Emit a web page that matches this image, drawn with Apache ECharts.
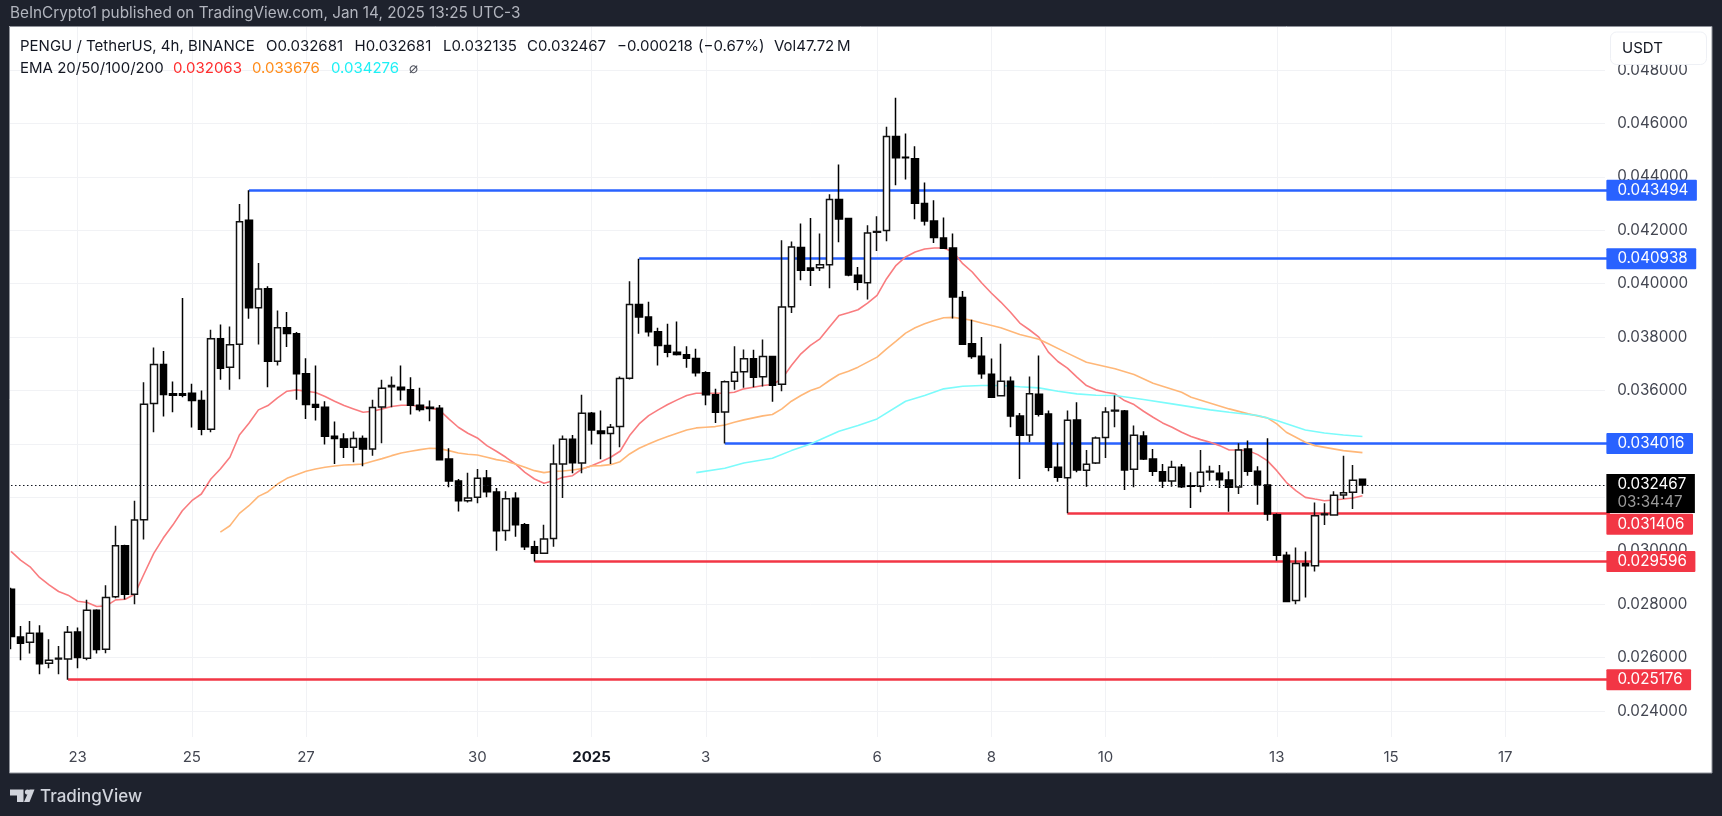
<!DOCTYPE html>
<html>
<head>
<meta charset="utf-8">
<title>PENGU / TetherUS</title>
<script src="https://cdn.jsdelivr.net/npm/echarts@6/dist/echarts.min.js"></script>
<style>
  html, body { margin: 0; padding: 0; background: #1e222d; }
  #chart { width: 1722px; height: 816px; }
</style>
</head>
<body>
<div id="chart"></div>
<script>
const opens = [
  0.028562,0.026775,0.026575,0.026912,0.025787,0.025950,0.025950,0.026962,0.025975,0.027775,
  0.026312,0.028275,0.030187,0.028375,0.031162,0.035512,0.036975,0.035875,0.035875,0.035900,
  0.035625,0.034550,0.037937,0.036875,0.037737,0.042373,0.039100,0.039812,0.037100,0.038350,
  0.038125,0.036625,0.035475,0.035375,0.034287,0.034187,0.033875,0.034200,0.033812,0.035387,
  0.036137,0.036125,0.036025,0.035450,0.035375,0.035337,0.033437,0.032612,0.031875,0.032000,
  0.032725,0.032200,0.030762,0.031962,0.030975,0.030150,0.029912,0.030462,0.033250,0.034175,
  0.033287,0.035150,0.034487,0.034387,0.034650,0.036462,0.039225,0.038750,0.038200,0.037687,
  0.037437,0.037337,0.037200,0.036662,0.035837,0.035200,0.036350,0.036700,0.037187,0.036512,
  0.037275,0.036237,0.039137,0.041350,0.040587,0.040600,0.040712,0.043150,0.042437,0.040312,
  0.040037,0.041925,0.041987,0.045512,0.044737,0.044675,0.043000,0.042350,0.041712,0.041337,
  0.039487,0.037750,0.037287,0.036612,0.035800,0.036350,0.035050,0.034337,0.035862,0.035125,
  0.033125,0.032737,0.034900,0.033012,0.033287,0.034237,0.035237,0.035237,0.033050,0.034300,
  0.033437,0.032962,0.032612,0.033125,0.032437,0.032412,0.032950,0.032900,0.032650,0.032387,
  0.033812,0.032975,0.032462,0.031350,0.029837,0.028137,0.029525,0.029437,0.031350,0.031337,
  0.032087,0.032187,0.032681
];
const closes = [
  0.026787,0.026537,0.026912,0.025775,0.025900,0.025975,0.026950,0.026000,0.027775,0.026300,
  0.028250,0.030187,0.028375,0.031150,0.035487,0.036975,0.035850,0.035825,0.035825,0.035625,
  0.034550,0.037937,0.036837,0.037712,0.042320,0.039100,0.039800,0.037100,0.038350,0.038137,
  0.036625,0.035475,0.035375,0.034287,0.034200,0.033875,0.034200,0.033812,0.035362,0.036087,
  0.036187,0.036025,0.035450,0.035287,0.035325,0.033412,0.032612,0.031875,0.031975,0.032712,
  0.032212,0.030750,0.031950,0.030975,0.030150,0.029912,0.030437,0.033250,0.034175,0.033300,
  0.035150,0.034525,0.034387,0.034625,0.036450,0.039225,0.038750,0.038200,0.037687,0.037437,
  0.037350,0.037212,0.036662,0.035837,0.035187,0.036325,0.036687,0.037187,0.036500,0.037275,
  0.036200,0.039125,0.041375,0.040500,0.040500,0.040712,0.043150,0.042425,0.040325,0.040050,
  0.041900,0.041950,0.045512,0.044712,0.044712,0.043012,0.042350,0.041725,0.041325,0.039500,
  0.037737,0.037275,0.036625,0.035750,0.036350,0.035050,0.034325,0.035875,0.035112,0.033125,
  0.032750,0.034887,0.033025,0.033237,0.034225,0.035200,0.035262,0.033025,0.034325,0.033437,
  0.032975,0.032612,0.033125,0.032400,0.032412,0.032937,0.032975,0.032662,0.032375,0.033775,
  0.032975,0.032475,0.031375,0.029837,0.028100,0.029525,0.029437,0.031312,0.031375,0.032075,
  0.032175,0.032637,0.032467
];
const lows = [
  0.026312,0.025900,0.026150,0.025375,0.025600,0.025375,0.025176,0.025600,0.025900,0.026150,
  0.026162,0.028225,0.028175,0.028000,0.030425,0.034437,0.035025,0.035187,0.035750,0.034612,
  0.034325,0.034437,0.036400,0.036025,0.036425,0.038687,0.037725,0.036125,0.036937,0.037625,
  0.035650,0.034937,0.034875,0.033975,0.033250,0.033475,0.033312,0.033162,0.033562,0.034025,
  0.035375,0.035625,0.035100,0.035212,0.034850,0.033400,0.032375,0.031475,0.031812,0.031775,
  0.032000,0.030000,0.030375,0.030525,0.030025,0.029596,0.029880,0.030150,0.031975,0.032900,
  0.032900,0.033975,0.033425,0.033250,0.033875,0.036412,0.038125,0.038025,0.036937,0.037250,
  0.037312,0.036850,0.036525,0.035450,0.034787,0.034016,0.036025,0.036100,0.036125,0.036150,
  0.035575,0.035975,0.038900,0.040125,0.039912,0.040475,0.039825,0.041550,0.040275,0.039750,
  0.039412,0.041225,0.041587,0.043687,0.043900,0.042412,0.042175,0.041525,0.041320,0.038700,
  0.037700,0.037187,0.036437,0.035725,0.035775,0.034625,0.032687,0.034062,0.035025,0.032975,
  0.032587,0.031406,0.032937,0.032400,0.033250,0.033475,0.034625,0.032275,0.032375,0.033400,
  0.032800,0.032350,0.032400,0.032350,0.031600,0.032187,0.032625,0.032350,0.031462,0.032125,
  0.032812,0.031725,0.031125,0.029625,0.028075,0.028000,0.028250,0.029225,0.030962,0.031312,
  0.031937,0.031562,0.032135
];
const highs = [
  0.028620,0.027187,0.027375,0.027212,0.026687,0.026437,0.027187,0.027125,0.028162,0.027812,
  0.028712,0.030937,0.030225,0.031875,0.036312,0.037612,0.037475,0.036337,0.039462,0.036250,
  0.036000,0.038275,0.038475,0.038400,0.042983,0.043494,0.040774,0.039900,0.039000,0.038937,
  0.038187,0.037212,0.036937,0.035600,0.034837,0.034400,0.034462,0.034312,0.035650,0.036400,
  0.036525,0.036937,0.036500,0.036100,0.035625,0.035462,0.033837,0.032687,0.032925,0.033062,
  0.033025,0.032350,0.032225,0.032187,0.031037,0.030375,0.030975,0.033975,0.034312,0.034337,
  0.035837,0.035200,0.035250,0.034750,0.036525,0.040087,0.040938,0.039325,0.038350,0.038500,
  0.038587,0.037662,0.037562,0.036725,0.036062,0.036375,0.037662,0.037537,0.037525,0.037912,
  0.037290,0.041625,0.041575,0.042250,0.042462,0.041875,0.043350,0.044462,0.042462,0.040625,
  0.042187,0.042525,0.045875,0.046962,0.045625,0.045150,0.043787,0.043125,0.042475,0.041875,
  0.039725,0.038650,0.038000,0.037200,0.037750,0.036525,0.035162,0.036525,0.037312,0.035250,
  0.034025,0.035250,0.035562,0.033775,0.034275,0.035375,0.035812,0.035275,0.034687,0.034475,
  0.033812,0.033250,0.033375,0.033250,0.032937,0.033775,0.033187,0.033212,0.032975,0.034025,
  0.034125,0.033162,0.034212,0.031400,0.029962,0.030125,0.029975,0.031812,0.031775,0.032225,
  0.033562,0.033212,0.032681
];

// [candle index, value]
const ema20Points = [
  [0,0.029975],[1,0.029650],[2,0.029400],[3,0.029000],[4,0.028725],[5,0.028475],[6,0.028337],[7,0.028112],
  [8,0.028062],[9,0.027912],[10,0.027937],[11,0.028162],[12,0.028187],[13,0.028375],[14,0.029150],[15,0.029900],
  [16,0.030475],[17,0.030962],[18,0.031500],[19,0.031875],[20,0.032125],[21,0.032687],[22,0.033062],[23,0.033500],
  [24,0.034337],[25,0.034775],[26,0.035275],[27,0.035437],[28,0.035725],[29,0.035975],[30,0.036025],[31,0.035975],
  [32,0.035925],[33,0.035775],[34,0.035600],[35,0.035437],[36,0.035312],[37,0.035187],[38,0.035225],[39,0.035312],
  [40,0.035400],[41,0.035450],[42,0.035450],[43,0.035400],[44,0.035350],[45,0.035275],[46,0.034937],[47,0.034625],
  [48,0.034400],[49,0.034225],[50,0.033937],[51,0.033725],[52,0.033500],[53,0.033250],[54,0.032937],[55,0.032687],
  [56,0.032525],[57,0.032625],[58,0.032750],[59,0.032812],[60,0.033062],[61,0.033187],[62,0.033337],[63,0.033500],
  [64,0.033725],[65,0.034312],[66,0.034750],[67,0.035062],[68,0.035275],[69,0.035475],[70,0.035650],[71,0.035812],
  [72,0.035900],[73,0.035900],[74,0.035900],[75,0.035900],[76,0.035937],[77,0.036062],[78,0.036125],[79,0.036187],
  [80,0.036225],[81,0.036437],[82,0.036937],[83,0.037375],[84,0.037687],[85,0.037937],[86,0.038375],[87,0.038812],
  [88,0.038912],[89,0.039025],[90,0.039275],[91,0.039562],[92,0.040187],[93,0.040687],[94,0.041000],[95,0.041187],
  [96,0.041300],[97,0.041337],[98,0.041337],[99,0.041187],[100,0.040750],[101,0.040437],[102,0.040025],[103,0.039650],
  [104,0.039312],[105,0.038937],[106,0.038525],[107,0.038275],[108,0.038000],[109,0.037437],[110,0.037087],[111,0.036837],
  [112,0.036500],[113,0.036187],[114,0.036025],[115,0.035937],[116,0.035875],[117,0.035625],[118,0.035475],[119,0.035225],
  [120,0.035000],[121,0.034787],[122,0.034625],[123,0.034437],[124,0.034275],[125,0.034162],[126,0.034062],[127,0.033937],
  [128,0.033775],[129,0.033775],[130,0.033750],[131,0.033600],[132,0.033375],[133,0.033000],[134,0.032562],[135,0.032250],
  [136,0.032000],[137,0.031937],[138,0.031875],[139,0.031900],[140,0.031937],[141,0.031975],[142,0.032063]
];
const ema50Points = [
  [22,0.030700],[23,0.030937],[24,0.031400],[25,0.031687],[26,0.032037],[27,0.032212],[28,0.032500],[29,0.032712],
  [30,0.032850],[31,0.032975],[32,0.033062],[33,0.033125],[34,0.033175],[35,0.033212],[36,0.033225],[37,0.033250],
  [38,0.033350],[39,0.033450],[40,0.033562],[41,0.033662],[42,0.033725],[43,0.033787],[44,0.033837],[45,0.033825],
  [46,0.033750],[47,0.033662],[48,0.033612],[49,0.033587],[50,0.033500],[51,0.033412],[52,0.033350],[53,0.033250],
  [54,0.033125],[55,0.033000],[56,0.032925],[57,0.032975],[58,0.032987],[59,0.033025],[60,0.033075],[61,0.033175],
  [62,0.033187],[63,0.033225],[64,0.033337],[65,0.033625],[66,0.033837],[67,0.034000],[68,0.034150],[69,0.034275],
  [70,0.034400],[71,0.034525],[72,0.034600],[73,0.034625],[74,0.034650],[75,0.034712],[76,0.034812],[77,0.034900],
  [78,0.034975],[79,0.035050],[80,0.035100],[81,0.035312],[82,0.035600],[83,0.035812],[84,0.036000],[85,0.036125],
  [86,0.036375],[87,0.036600],[88,0.036725],[89,0.036875],[90,0.037062],[91,0.037250],[92,0.037562],[93,0.037850],
  [94,0.038150],[95,0.038350],[96,0.038500],[97,0.038625],[98,0.038725],[99,0.038737],[100,0.038687],[101,0.038625],
  [102,0.038525],[104,0.038350],[106,0.038100],[108,0.037920],[109,0.037750],[111,0.037400],[113,0.037062],[116,0.036812],
  [118,0.036600],[120,0.036275],[123,0.035937],[124,0.035750],[128,0.035312],[130,0.035125],[132,0.034975],[133,0.034750],
  [134,0.034437],[136,0.034062],[137,0.033937],[140,0.033750],[142,0.033676]
];
const ema100Points = [
  [72,0.032925],[75,0.033087],[77,0.033287],[80,0.033462],[82,0.033750],[84,0.034000],[87,0.034475],[89,0.034687],
  [91,0.034937],[94,0.035600],[96,0.035812],[98,0.036062],[100,0.036162],[102,0.036187],[104,0.036187],[106,0.036140],
  [108,0.036100],[110,0.035975],[112,0.035875],[114,0.035825],[116,0.035812],[119,0.035662],[122,0.035500],[126,0.035275],
  [128,0.035187],[131,0.035062],[133,0.034875],[136,0.034525],[138,0.034412],[140,0.034337],[142,0.034276]
];

const categoryCount = 169;
const categories = Array.from({ length: categoryCount }, (_, i) => String(i));
const xTickIndex = [7, 19, 31, 49, 61, 73, 91, 103, 115, 133, 145, 157];
const xTickLabels = ["23", "25", "27", "30", "2025", "3", "6", "8", "10", "13", "15", "17"];
const yTicks = [0.024, 0.026, 0.028, 0.03, 0.032, 0.034, 0.036, 0.038, 0.04, 0.042, 0.044, 0.046, 0.048];

const resistanceLevels = [0.043494, 0.040938, 0.034016];
const resistanceStarts = [25, 66, 75];
const supportLevels = [0.031406, 0.029596, 0.025176];
const supportStarts = [111, 55, 6];
const lastPrice = 0.032467;
const countdown = "03:34:47";

const FONT = "Inter, 'Noto Sans', sans-serif";
const BLUE = "#2962ff";
const RED = "#f23645";
const FRAME = "#1e222d";
const GRID = "#f1f2f5";
const lastIndex = categoryCount - 1;

function levelLine(value, start, color, tagOffset) {
  return [
    {
      xAxis: start,
      yAxis: value,
      lineStyle: { color: color, width: 2.6, type: "solid" },
      label: {
        show: true,
        position: "end",
        distance: -3.5,
        offset: [0, tagOffset],
        formatter: value.toFixed(6),
        backgroundColor: color,
        color: "#fff",
        fontFamily: FONT,
        fontSize: 15.2,
        padding: [3, 8.5, 3, 11],
        borderRadius: 1,
      },
    },
    { xAxis: lastIndex, yAxis: value },
  ];
}

function headerText(x, y, text, fill) {
  return {
    type: "text",
    z: 60,
    style: { x: x, y: y, text: text, fill: fill || "#131722", font: `15px ${FONT}`, verticalAlign: "middle" },
  };
}

function frameRect(x, y, width, height) {
  return { type: "rect", z: 100, shape: { x, y, width, height }, style: { fill: FRAME } };
}

const graphics = [
  // mask for the grid overrun between the plot and the price scale
  { type: "rect", z: 1, shape: { x: 1605, y: 27, width: 10, height: 710 }, style: { fill: "#fff" } },
  frameRect(0, 0, 1722, 26),
  frameRect(0, 26, 9, 748),
  frameRect(1712, 26, 10, 748),
  frameRect(0, 773, 1722, 43),
  {
    type: "rect", z: 101,
    shape: { x: 9.5, y: 26.5, width: 1702.5, height: 746.5 },
    style: { fill: "none", stroke: "#8f929a", lineWidth: 1 },
  },
  {
    type: "text", z: 101,
    style: {
      x: 10, y: 13, verticalAlign: "middle", fill: "#b2b5be", font: `15.3px ${FONT}`,
      text: "BeInCrypto1 published on TradingView.com, Jan 14, 2025 13:25 UTC-3",
    },
  },
  headerText(20, 46, "PENGU / TetherUS, 4h, BINANCE"),
  headerText(266, 46, "O0.032681"),
  headerText(354.5, 46, "H0.032681"),
  headerText(443, 46, "L0.032135"),
  headerText(527, 46, "C0.032467"),
  headerText(617, 46, "\u22120.000218"),
  headerText(698, 46, "(\u22120.67%)"),
  headerText(774, 46, "Vol47.72\u2009M"),
  headerText(20, 68.5, "EMA 20/50/100/200"),
  headerText(173, 68.5, "0.032063", "#ff2d2d"),
  headerText(252, 68.5, "0.033676", "#ff8c1a"),
  headerText(331, 68.5, "0.034276", "#1ff0f5"),
  headerText(409, 68.5, "\u2300", "#50535e"),
  {
    type: "rect", z: 60,
    shape: { x: 1610.5, y: 32, width: 96, height: 32.5, r: 6 },
    style: { fill: "#fff", stroke: "#eef0f5", lineWidth: 1 },
  },
  headerText(1622, 48, "USDT"),
  // TradingView mark
  {
    type: "polygon", z: 101,
    shape: { points: [[10, 789.5], [23.5, 789.5], [23.5, 802], [17, 802], [17, 795.5], [10, 795.5]] },
    style: { fill: "#d1d4dc" },
  },
  { type: "circle", z: 101, shape: { cx: 27.5, cy: 792, r: 2.6 }, style: { fill: "#d1d4dc" } },
  {
    type: "polygon", z: 101,
    shape: { points: [[29.5, 789.5], [34.5, 789.5], [29.5, 802], [24, 802]] },
    style: { fill: "#d1d4dc" },
  },
  {
    type: "text", z: 101,
    style: { x: 40, y: 796.5, verticalAlign: "middle", text: "TradingView", fill: "#d1d4dc", font: `500 17px ${FONT}` },
  },
];

const levelData = [
  ...resistanceLevels.map((v, i) => levelLine(v, resistanceStarts[i], BLUE, 0)),
  levelLine(supportLevels[0], supportStarts[0], RED, 11),
  levelLine(supportLevels[1], supportStarts[1], RED, 0),
  levelLine(supportLevels[2], supportStarts[2], RED, 0),
];

const chart = echarts.init(document.getElementById("chart"));
chart.setOption({
  animation: false,
  backgroundColor: "#fff",
  textStyle: { fontFamily: FONT },
  grid: { left: 6.24, top: 27, width: 1608.4, height: 710, containLabel: false },
  xAxis: {
    type: "category",
    data: categories,
    boundaryGap: true,
    axisLine: { show: false },
    axisTick: { show: false },
    axisLabel: {
      interval: (index) => xTickIndex.includes(index),
      formatter: (value) => {
        const label = xTickLabels[xTickIndex.indexOf(Number(value))];
        return label === "2025" ? "{year|2025}" : label;
      },
      margin: 13,
      color: "#434651",
      fontFamily: FONT,
      fontSize: 15,
      rich: { year: { fontWeight: "bold", color: "#131722", fontFamily: FONT, fontSize: 15 } },
    },
    splitLine: {
      show: true,
      alignWithLabel: true,
      interval: (index) => xTickIndex.includes(index),
      lineStyle: { color: GRID, width: 1 },
    },
  },
  yAxis: {
    type: "value",
    position: "right",
    min: 0.023028,
    max: 0.04961,
    scale: true,
    axisLine: { show: false },
    axisTick: { show: false, customValues: yTicks },
    axisLabel: {
      customValues: yTicks,
      formatter: (value) => value.toFixed(6),
      margin: 2.5,
      color: "#434651",
      fontFamily: FONT,
      fontSize: 15.2,
    },
    splitLine: { show: true, lineStyle: { color: GRID, width: 1 } },
  },
  series: [
    {
      name: "levels",
      type: "line",
      z: 2,
      data: [],
      clip: false,
      markLine: { silent: true, z: 2, symbol: "none", data: levelData },
    },
    {
      name: "EMA 20",
      type: "line",
      z: 3,
      data: ema20Points,
      showSymbol: false,
      symbol: "none",
      lineStyle: { color: "#f97c7f", width: 1.6 },
    },
    {
      name: "EMA 50",
      type: "line",
      z: 3,
      data: ema50Points,
      showSymbol: false,
      symbol: "none",
      lineStyle: { color: "#ffb778", width: 1.6 },
    },
    {
      name: "EMA 100",
      type: "line",
      z: 3,
      data: ema100Points,
      showSymbol: false,
      symbol: "none",
      lineStyle: { color: "#7cfbfb", width: 1.6 },
    },
    {
      name: "PENGU / TetherUS",
      type: "candlestick",
      z: 4,
      barWidth: 7,
      data: opens.map((open, i) => [open, closes[i], lows[i], highs[i]]),
      itemStyle: {
        color: "#ffffff",
        color0: "#000000",
        borderColor: "#111111",
        borderColor0: "#000000",
        borderWidth: 1.5,
      },
      markLine: {
        silent: true,
        z: 5,
        symbol: "none",
        data: [
          [
            {
              xAxis: 0,
              yAxis: lastPrice,
              lineStyle: { color: "#131722", width: 1, type: [1.5, 2.5] },
              label: {
                show: true,
                position: "end",
                distance: -3.5,
                offset: [0, 8.5],
                formatter: `{price|${lastPrice.toFixed(6)}}\n{timer|${countdown}}`,
                backgroundColor: "#000",
                padding: [2, 8.5, 1, 11],
                rich: {
                  price: { color: "#fff", fontFamily: FONT, fontSize: 15.2, lineHeight: 18 },
                  timer: { color: "#9a9a9a", fontFamily: FONT, fontSize: 15.2, lineHeight: 18 },
                },
              },
            },
            { xAxis: lastIndex, yAxis: lastPrice },
          ],
        ],
      },
    },
  ],
  graphic: { elements: graphics },
});
</script>
</body>
</html>
